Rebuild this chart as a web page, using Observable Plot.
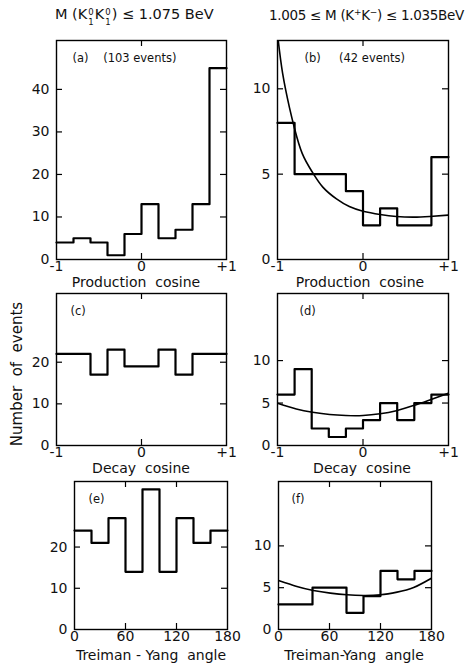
<!DOCTYPE html>
<html>
<head>
<meta charset="utf-8">
<script src="https://cdn.jsdelivr.net/npm/d3@7"></script>
<script src="https://cdn.jsdelivr.net/npm/@observablehq/plot@0.6"></script>
<style>
  html, body { margin: 0; padding: 0; background: #fff; }
  #root { position: relative; width: 465px; height: 664px; overflow: hidden; background: #fff;
          font-family: "DejaVu Sans", sans-serif; color: #111; }
  .abs { position: absolute; white-space: pre; line-height: 16px; }
  .title { font-size: 14.5px; }
  .xl { font-size: 14px; transform: translateX(-50%); }
  .ss { display: inline-block; vertical-align: -6px; font-size: 8.5px; line-height: 10px; text-align: center; margin: 0 1px; }
  .ss span { display: block; height: 10px; }
  .ylab { font-size: 15px; transform: translate(-50%, -50%) rotate(-90deg); }
  svg { position: absolute; overflow: visible; }
</style>
</head>
<body>
<div id="root">
  <div class="abs title" style="left:55px; top:6px">M (K<span class="ss"><span>0</span><span>1</span></span>K<span class="ss"><span>0</span><span>1</span></span>) ≤ 1.075 BeV</div>
  <div class="abs title" style="right:1px; top:7px; font-size:13.5px; letter-spacing:-0.3px">1.005 ≤ M (K<sup style="font-size:9px; line-height:0">+</sup>K<sup style="font-size:9px; line-height:0">−</sup>) ≤ 1.035BeV</div>
  <div class="abs xl" style="left:136px; top:274px">Production  cosine</div>
  <div class="abs xl" style="left:360px; top:274px">Production  cosine</div>
  <div class="abs xl" style="left:141px; top:460px">Decay  cosine</div>
  <div class="abs xl" style="left:362px; top:460px">Decay  cosine</div>
  <div class="abs xl" style="left:151px; top:647px">Treiman - Yang  angle</div>
  <div class="abs xl" style="left:354px; top:647px">Treiman-Yang  angle</div>
  <div class="abs ylab" style="left:17px; top:374px">Number  of  events</div>
</div>
<script>
// ---- data ----
const cosEdges = [-1, -0.8, -0.6, -0.4, -0.2, 0, 0.2, 0.4, 0.6, 0.8, 1];
const angleEdges = [0, 20, 40, 60, 80, 100, 120, 140, 160, 180];

const countsA = [4, 5, 4, 1, 6, 13, 5, 7, 13, 45];
const countsB = [8, 5, 5, 5, 4, 2, 3, 2, 2, 6];
const countsC = [22, 22, 17, 23, 19, 19, 23, 17, 22, 22];
const countsD = [6, 9, 2, 1, 2, 3, 5, 3, 5, 6];
const countsE = [24, 21, 27, 14, 34, 14, 27, 21, 24];
const countsF = [3, 3, 5, 5, 2, 4, 7, 6, 7];

const fitBX = [-1, -0.94, -0.86, -0.8, -0.71, -0.59, -0.47, -0.31, -0.16, 0, 0.2, 0.39, 0.59, 0.78, 1];
const fitBY = [13.2, 10.9, 8.9, 7.66, 6.2, 5.1, 4.24, 3.55, 3.1, 2.83, 2.64, 2.52, 2.48, 2.52, 2.6];
const fitDX = [-1, -0.78, -0.59, -0.39, -0.2, 0, 0.2, 0.39, 0.59, 0.78, 1];
const fitDY = [4.98, 4.31, 3.92, 3.65, 3.53, 3.53, 3.73, 4.1, 4.7, 5.37, 6.16];
const fitFX = [0, 21.6, 41, 61, 80.6, 100, 120, 139.5, 159, 180];
const fitFY = [5.85, 5.14, 4.66, 4.35, 4.15, 4.07, 4.15, 4.47, 5.02, 6.13];

const cosTicks = [-1, 0, 1];
const cosTickLabels = ["-1", "0", "+1"];
const cosInnerTicks = [0];
const angleTicks = [0, 60, 120, 180];
const angleTickLabels = ["0", "60", "120", "180"];
const angleInnerTicks = [60, 120];

const yTicksA = [0, 10, 20, 30, 40];
const yTicksB = [0, 5, 10];
const yTicksC = [0, 10, 20];
const yTicksD = [0, 5, 10];
const yTicksE = [0, 10, 20];
const yTicksF = [0, 5, 10];

const labelA = "(a)    (103 events)";
const labelB = "(b)     (42 events)";
const labelC = "(c)";
const labelD = "(d)";
const labelE = "(e)";
const labelF = "(f)";

// ---- drawing ----
const ML = 40, MR = 12, MT = 5, MB = 26;
const root = document.getElementById("root");

function panel(cfg) {
  const steps = cfg.edges.map((e, i) => ({x: e, y: cfg.counts[Math.min(i, cfg.counts.length - 1)]}));
  const marks = [];
  const inner = cfg.yTicks.filter(t => t !== 0);
  marks.push(Plot.tickY(inner, {y: d => d, stroke: "black", strokeWidth: 1.2, insetRight: cfg.fw - 6}));
  marks.push(Plot.tickY(inner, {y: d => d, stroke: "black", strokeWidth: 1.2, insetLeft: cfg.fw - 6}));
  marks.push(Plot.tickX(cfg.innerX, {x: d => d, stroke: "black", strokeWidth: 1.2, insetBottom: cfg.fh - 6}));
  marks.push(Plot.tickX(cfg.innerX, {x: d => d, stroke: "black", strokeWidth: 1.2, insetTop: cfg.fh - 6}));
  marks.push(Plot.axisY(cfg.yTicks, {anchor: "left", tickSize: 0, tickPadding: 7, fontSize: 14, label: null, fill: "#111"}));
  marks.push(Plot.axisX(cfg.xTicks, {anchor: "bottom", tickSize: 0, tickPadding: 2, fontSize: 14, label: null, fill: "#111",
    tickFormat: d => cfg.xLabels[cfg.xTicks.indexOf(d)]}));
  if (cfg.fitX) {
    const fit = cfg.fitX.map((x, i) => ({x, y: cfg.fitY[i]}));
    marks.push(Plot.line(fit, {x: "x", y: "y", curve: "natural", stroke: "black", strokeWidth: 1.6, clip: true}));
  }
  marks.push(Plot.line(steps, {x: "x", y: "y", curve: "step-after", stroke: "black", strokeWidth: 2.2}));
  marks.push(Plot.frame({stroke: "black", strokeWidth: 1.4}));
  marks.push(Plot.text([cfg.label], {text: d => d, frameAnchor: "top-left", dx: cfg.ldx, dy: cfg.ldy, fontSize: 11.5, fill: "#111"}));
  const svg = Plot.plot({
    width: cfg.fw + ML + MR,
    height: cfg.fh + MT + MB,
    marginLeft: ML, marginRight: MR, marginTop: MT, marginBottom: MB,
    x: {domain: cfg.xDomain, axis: null},
    y: {domain: [0, cfg.yTop], axis: null},
    style: {background: "transparent", fontFamily: "DejaVu Sans, sans-serif", fontSize: "14px", overflow: "visible"},
    marks
  });
  svg.style.left = (cfg.fx - ML) + "px";
  svg.style.top = (cfg.fy - MT) + "px";
  svg.style.position = "absolute";
  root.appendChild(svg);
}

const cosBase = {edges: cosEdges, xDomain: [-1, 1], xTicks: cosTicks, xLabels: cosTickLabels, innerX: cosInnerTicks};
const angBase = {edges: angleEdges, xDomain: [0, 180], xTicks: angleTicks, xLabels: angleTickLabels, innerX: angleInnerTicks};

panel({...cosBase, counts: countsA, yTicks: yTicksA, yTop: 51.5, fx: 56, fy: 40, fw: 170, fh: 219, label: labelA, ldx: 16, ldy: 13});
panel({...cosBase, counts: countsB, yTicks: yTicksB, yTop: 12.83, fx: 277, fy: 40, fw: 171, fh: 219, label: labelB, ldx: 27, ldy: 13,
       fitX: fitBX, fitY: fitBY});
panel({...cosBase, counts: countsC, yTicks: yTicksC, yTop: 36.5, fx: 56, fy: 293, fw: 170, fh: 152, label: labelC, ldx: 14, ldy: 13});
panel({...cosBase, counts: countsD, yTicks: yTicksD, yTop: 17.9, fx: 277, fy: 293, fw: 171, fh: 152, label: labelD, ldx: 22, ldy: 13,
       fitX: fitDX, fitY: fitDY});
panel({...angBase, counts: countsE, yTicks: yTicksE, yTop: 35.9, fx: 74, fy: 481, fw: 153, fh: 148, label: labelE, ldx: 14, ldy: 13});
panel({...angBase, counts: countsF, yTicks: yTicksF, yTop: 17.7, fx: 278, fy: 481, fw: 153, fh: 148, label: labelF, ldx: 13, ldy: 13,
       fitX: fitFX, fitY: fitFY});
</script>
</body>
</html>
